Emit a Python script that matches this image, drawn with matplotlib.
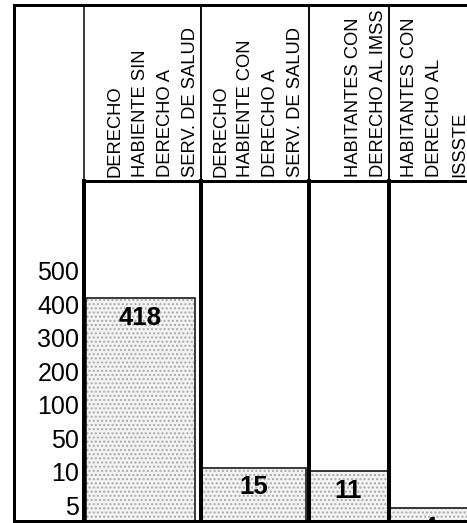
import numpy as np
import matplotlib
matplotlib.use("Agg")
import matplotlib.pyplot as plt

plt.rcParams["font.family"] = ["Liberation Sans", "DejaVu Sans"]

# ── Data ──────────────────────────────────────────────────────────────────────
HEADERS = [
    "DERECHO\nHABIENTE SIN\nDERECHO A\nSERV. DE SALUD",
    "DERECHO\nHABIENTE CON\nDERECHO A\nSERV. DE SALUD",
    "HABITANTES CON\nDERECHO AL IMSS",
    "HABITANTES CON\nDERECHO AL\nISSSTE",
]
VALUES = [418, 15, 11, 4]
TICK_VALUES = [5, 10, 50, 100, 200, 300, 400, 500]
TICK_LABELS = ["5", "10", "50", "100", "200", "300", "400", "500"]

# ── Layout (pixels) ───────────────────────────────────────────────────────────
W, H = 467, 523
COL_X = [13.5, 83.5, 200.5, 308.5, 388.5, 471]
ROW_Y = [4.5, 180.5, 520.5]
BAR_SPAN = [(0.02, 0.93), (0.0, 0.98), (0.0, 1.0), (0.0, 1.0)]
HEAD_PAD = [-1, -3, -1, -2]   # right padding of header text, points
PX = 0.72  # points per pixel at dpi 100

# stepped scale: every tick step gets the same height, 0-5 a short one
SCALE_V = [0, 5, 10, 50, 100, 200, 300, 400, 500, 1000]
SCALE_U = [0, 0.45, 1.45, 2.45, 3.45, 4.45, 5.45, 6.45, 7.45, 12.45]


def forward(v):
    return np.interp(v, SCALE_V, SCALE_U)


def inverse(u):
    return np.interp(u, SCALE_U, SCALE_V)


def rect(x0, x1, y0, y1):
    return [x0 / W, 1 - y1 / H, (x1 - x0) / W, (y1 - y0) / H]


fig = plt.figure(figsize=(W / 100, H / 100), dpi=100)

# outer frame (also the empty first column)
frame = fig.add_axes(rect(COL_X[0], COL_X[-1], ROW_Y[0], ROW_Y[-1]))
frame.set_xticks([])
frame.set_yticks([])
for s in frame.spines.values():
    s.set_linewidth(3 * PX)

body_axes = []
for i, (head, val) in enumerate(zip(HEADERS, VALUES)):
    x0, x1 = COL_X[i + 1], COL_X[i + 2]

    # header cell
    hax = fig.add_axes(rect(x0, x1, ROW_Y[0], ROW_Y[1]))
    hax.set_facecolor("none")
    hax.set_xticks([])
    hax.set_yticks([])
    hax.spines["left"].set_linewidth(1.5 * PX)
    hax.spines["right"].set_linewidth(1.5 * PX)
    hax.spines["top"].set_linewidth(3 * PX)
    hax.spines["bottom"].set_linewidth(3 * PX)
    hax.annotate(head, xy=(1, 0), xycoords="axes fraction",
                 xytext=(HEAD_PAD[i], 2.5), textcoords="offset points",
                 rotation=90, ha="right", va="bottom", multialignment="left",
                 fontsize=13.2, linespacing=1.62, color="black")

    # body cell
    if body_axes:
        ax = fig.add_axes(rect(x0, x1, ROW_Y[1], ROW_Y[2]), sharey=body_axes[0])
    else:
        ax = fig.add_axes(rect(x0, x1, ROW_Y[1], ROW_Y[2]))
        ax.set_yscale("function", functions=(forward, inverse))
        ax.set_ylim(0, 770)
    body_axes.append(ax)
    ax.set_xlim(0, 1)
    ax.set_xticks([])
    ax.spines["left"].set_linewidth(4 * PX)
    ax.spines["right"].set_linewidth(4 * PX)
    ax.spines["top"].set_linewidth(3 * PX)
    ax.spines["bottom"].set_linewidth(3 * PX)

    left, width = BAR_SPAN[i]
    ax.bar(left, val, width=width, align="edge", facecolor="#f3f3f3",
           edgecolor="#a8a8a8", hatch="....", linewidth=0)
    ax.bar(left, val, width=width, align="edge", fill=False,
           edgecolor="#2a2a2a", linewidth=1.3)
    ax.annotate(str(val), xy=(left + width / 2, val), xytext=(0, -5.5),
                textcoords="offset points", ha="center", va="top",
                fontsize=18.5, fontweight="bold", color="black")

# y tick labels sit in the first column
ax0 = body_axes[0]
ax0.set_yticks(TICK_VALUES)
ax0.set_yticklabels(TICK_LABELS)
ax0.tick_params(axis="y", length=0, pad=3, labelsize=18)
for ax in body_axes[1:]:
    ax.tick_params(axis="y", left=False, labelleft=False)

fig.savefig("out.png", dpi=100)
